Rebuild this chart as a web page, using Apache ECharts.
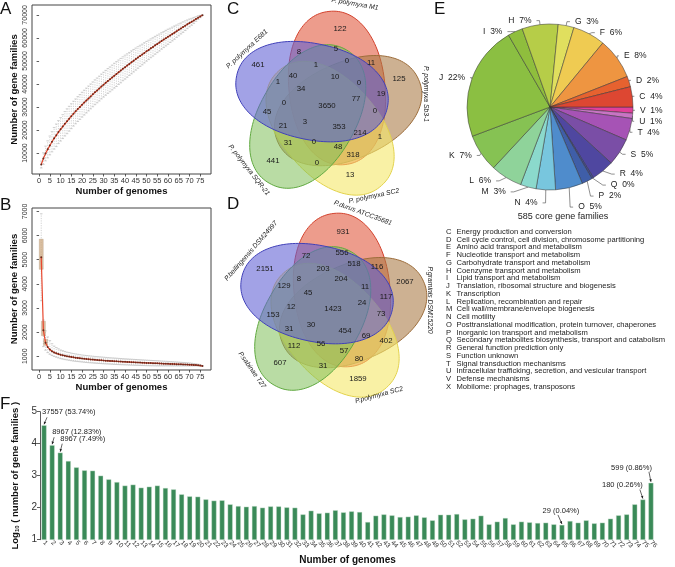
<!DOCTYPE html>
<html><head><meta charset="utf-8">
<script src="https://cdn.jsdelivr.net/npm/echarts@6/dist/echarts.min.js"></script>
<style>html,body{margin:0;padding:0;background:#fff}#c{width:675px;height:567px}</style>
</head><body><div id="c"></div>
<script>
// ---------------- DATA ----------------
const genomes = [1,2,3,4,5,6,7,8,9,10,11,12,13,14,15,16,17,18,19,20,21,22,23,24,25,26,27,28,29,30,31,32,33,34,35,36,37,38,39,40,41,42,43,44,45,46,47,48,49,50,51,52,53,54,55,56,57,58,59,60,61,62,63,64,65,66,67,68,69,70,71,72,73,74,75,76];
const genomeTicks = [0,5,10,15,20,25,30,35,40,45,50,55,60,65,70,75];
const panTicks = [10000,20000,30000,40000,50000,60000,70000];
const coreTicks = [1000,2000,3000,4000,5000,6000,7000];

const panMean = [5000,7600,9800,11600,13300,14900,16400,17700,19100,20300,21500,22700,23800,24900,26000,27100,28100,29100,30000,31000,31900,32800,33700,34600,35500,36400,37200,38000,38900,39700,40500,41300,42000,42800,43600,44300,45100,45800,46600,47300,48000,48700,49400,50100,50800,51500,52200,52800,53500,54200,54800,55500,56100,56800,57400,58000,58700,59300,59900,60500,61100,61700,62300,62900,63500,64100,64700,65300,65900,66500,67000,67600,68200,68800,69300,69900];
const panLow = [3500,5100,6600,7900,9200,10500,11700,12800,14100,15200,16300,17400,18400,19500,20600,21700,22700,23700,24600,25600,26500,27400,28300,29200,30100,31000,31800,32600,33500,34300,35100,35900,36600,37400,38200,38900,39800,40500,41400,42100,42900,43700,44400,45200,46000,46800,47600,48300,49100,49900,50600,51400,52100,52900,53600,54300,55100,55800,56500,57200,58000,58700,59400,60200,60900,61700,62400,63200,64000,64800,65500,66300,67200,68000,68800,69900];
const panHigh = [6500,10100,13000,15300,17400,19300,21100,22600,24100,25400,26700,28000,29200,30300,31400,32500,33500,34500,35400,36400,37300,38200,39100,40000,40900,41800,42600,43400,44300,45100,45900,46700,47400,48200,49000,49700,50400,51100,51800,52500,53100,53700,54400,55000,55600,56200,56800,57300,57900,58500,59000,59600,60100,60700,61200,61700,62300,62800,63300,63800,64200,64700,65200,65600,66100,66500,67000,67400,67800,68200,68500,68900,69200,69600,69800,69900];

const coreMean = [5100,2080,1560,1380,1280,1210,1160,1120,1090,1060,1040,1020,1000,985,970,955,942,930,918,907,897,887,878,869,861,853,845,838,831,824,818,812,806,800,794,789,783,778,773,768,763,758,754,749,745,740,736,732,728,724,720,716,712,708,705,701,697,694,690,687,683,680,676,673,669,666,662,658,655,651,646,640,633,625,614,599];
const coreLow = [3300,1400,1250,1150,1080,1030,990,960,930,900,880,860,845,830,815,800,790,780,770,760,750,742,734,726,719,712,706,700,694,688,683,678,673,668,663,659,654,650,646,642,638,634,631,627,624,621,618,615,612,609,607,604,602,600,599,599,599,599,599,599,599,599,599,599,599,599,599,599,599,599,599,599,599,599,599,599];
const coreHigh = [6900,2500,2050,1800,1650,1520,1420,1360,1310,1260,1230,1200,1170,1150,1130,1110,1095,1080,1065,1050,1040,1030,1020,1010,1000,992,984,976,968,960,952,945,938,931,924,918,911,905,899,893,887,881,876,870,865,859,854,849,844,838,833,828,822,817,812,806,800,795,790,785,778,773,767,761,755,749,742,735,728,720,710,698,684,668,645,599];
const coreBoxGenomes = [1,2,3];
const coreBoxLow = [4600,1850,1450];
const coreBoxHigh = [5850,2450,1700];

const vennCSets = ['P. polymyxa M1','P. polymyxa Sb3-1','P. polymyxa SC2','P. polymyxa SQR-21','P. polymyxa E681'];
const vennCCounts = [122,8,5,0,11,461,1,125,40,10,1,0,34,19,0,77,3650,0,45,3,21,353,214,1,31,0,48,318,441,0,13];
const vennDSets = ['P.durus ATCC35681','P.graminis DSM15220','P.polymyxa SC2','P.sabinae T27','P.beilingensis DSM24997'];
const vennDCounts = [931,72,556,518,116,2151,203,2067,8,204,129,11,45,117,12,1423,24,153,73,31,30,454,69,402,112,56,57,80,607,31,1859];

const cogLetters = ['V','U','T','S','R','Q','P','O','N','M','L','K','J','I','H','G','F','E','D','C'];
const cogCounts  = [7,6,25,31,26,2,12,31,22,18,36,43,131,17,41,18,37,47,12,23];
const cogTitle = '585 core gene families';
const cogLegend = [
 ['C','Energy production and conversion'],
 ['D','Cell cycle control, cell division, chromosome partitioning'],
 ['E','Amino acid transport and metabolism'],
 ['F','Nucleotide transport and metabolism'],
 ['G','Carbohydrate transport and metabolism'],
 ['H','Coenzyme transport and metabolism'],
 ['I','Lipid transport and metabolism'],
 ['J','Translation, ribosomal structure and biogenesis'],
 ['K','Transcription'],
 ['L','Replication, recombination and repair'],
 ['M','Cell wall/membrane/envelope biogenesis'],
 ['N','Cell motility'],
 ['O','Posttranslational modification, protein turnover, chaperones'],
 ['P','Inorganic ion transport and metabolism'],
 ['Q','Secondary metabolites biosynthesis, transport and catabolism'],
 ['R','General function prediction only'],
 ['S','Function unknown'],
 ['T','Signal transduction mechanisms'],
 ['U','Intracellular trafficking, secretion, and vesicular transport'],
 ['V','Defense mechanisms'],
 ['X','Mobilome: prophages, transposons']
];

const logFamilies = [4.575,3.953,3.720,3.458,3.260,3.167,3.156,3.000,2.885,2.800,2.690,2.720,2.625,2.656,2.690,2.615,2.573,2.417,2.354,2.344,2.260,2.220,2.230,2.104,2.050,2.030,2.050,2.000,2.040,2.040,2.010,2.000,1.790,1.906,1.823,1.844,1.920,1.854,1.885,1.865,1.552,1.750,1.790,1.760,1.708,1.719,1.760,1.698,1.604,1.780,1.780,1.802,1.635,1.656,1.750,1.479,1.563,1.677,1.479,1.563,1.542,1.521,1.531,1.479,1.462,1.583,1.531,1.604,1.510,1.531,1.656,1.760,1.790,2.104,2.255,2.777];
const fAnnoBins = [1,2,3,65,75,76];
const fAnnoTexts = ['37557 (53.74%)','8967 (12.83%)','8967 (7.49%)','29 (0.04%)','180 (0.26%)','599 (0.86%)'];

// ---------------- LAYOUT / STYLE ----------------
const FONT = '"Liberation Sans", Arial, Helvetica, sans-serif';
const VENN = {ox:10, oy:-19, a:48, b:77, p:2.15, tilt:-6};
const vennColors = [
 {fill:'rgba(224,84,56,0.58)', stroke:'#d2412c'},
 {fill:'rgba(168,120,68,0.58)', stroke:'#9c6c3a'},
 {fill:'rgba(245,232,105,0.6)', stroke:'#e2d24c'},
 {fill:'rgba(128,192,90,0.55)', stroke:'#5fa83f'},
 {fill:'rgba(95,95,212,0.58)', stroke:'#4040b8'}
];
const vennCLabelPos = [[13,-78],[-28,-55],[9,-58],[20,-46],[44,-44],[-69,-42],[-11,-42],[72,-28],[-34,-31],[8,-30],[-49,-25],[32,-24],[-26,-18],[54,-13],[-43,-4],[29,-8],[0,-1],[48,4],[-60,5],[-22,15],[-44,19],[12,20],[33,26],[53,30],[-39,36],[-13,35],[11,40],[26,48],[-54,54],[-10,56],[23,68]];
const vennDLabelPos = [[11,-77],[-26,-53],[10,-56],[22,-45],[45,-42],[-67,-40],[-9,-40],[73,-27],[-33,-30],[9,-30],[-48,-23],[33,-22],[-24,-16],[54,-12],[-41,-2],[1,0],[30,-6],[-59,6],[49,5],[-43,20],[-21,16],[13,22],[34,27],[54,32],[-38,37],[-11,35],[12,42],[27,50],[-52,54],[-9,57],[26,70]];
const vennCSetPos = [[28,-103,-10],[99,-13,-90],[47,89,12],[-78,63,-52],[-80,-58,43]];
const vennDSetPos = [[31,-96,-20],[98,-9,-90],[47,86,15],[-80,61,-55],[-81,-58,49]];
const cogColors = ['#e0409a','#c874c4','#a653b5','#7a4ea6','#4f47a0','#3d4a9c','#3f5ea8','#4f8ccc','#78c6de','#8bd9cc','#8fd39a','#86c253','#8bbf42','#8fbe3d','#b6cd48','#e0df5e','#efcb52','#ee9541','#e6622f','#dd4732'];
const fAnnoLayout = [
 {dx:-2,dy:-13,align:'left', a0:[3,-8], a1:[0,-1]},
 {dx:0,dy:-13,align:'left', a0:[2,-8], a1:[0,-1]},
 {dx:0,dy:-14,align:'left', a0:[2,-9], a1:[0,-1]},
 {dx:-1,dy:-14,align:'center', a0:[-4,-10], a1:[0,-1]},
 {dx:0,dy:-14.5,align:'right', a0:[-3,-10], a1:[0,-1]},
 {dx:1,dy:-15,align:'right', a0:[-2,-11], a1:[0,-1]}
];

// ---------------- BUILD ----------------
const chart = echarts.init(document.getElementById('c'), null, {renderer:'canvas'});
const axColor = '#333';

function whiskerItem(params, api){
  const x = api.value(0), lo = api.value(1), hi = api.value(2);
  const p0 = api.coord([x, lo]), p1 = api.coord([x, hi]);
  const st = {stroke:'#b3b3b3', lineWidth:0.6};
  return {type:'group', children:[
    {type:'line', shape:{x1:p0[0],y1:p0[1],x2:p1[0],y2:p1[1]}, style:Object.assign({lineDash:[1.2,1.2]}, st)},
    {type:'line', shape:{x1:p0[0]-1.3,y1:p0[1],x2:p0[0]+1.3,y2:p0[1]}, style:st},
    {type:'line', shape:{x1:p1[0]-1.3,y1:p1[1],x2:p1[0]+1.3,y2:p1[1]}, style:st}
  ]};
}
function boxItem(params, api){
  const x = api.value(0), lo = api.value(1), hi = api.value(2);
  const p0 = api.coord([x, hi]), p1 = api.coord([x, lo]);
  return {type:'rect', shape:{x:p0[0]-2, y:p0[1], width:4, height:p1[1]-p0[1]}, style:{fill:'rgba(205,170,130,0.75)', stroke:'rgba(150,120,90,0.6)', lineWidth:0.4}};
}
function vennBlobItem(params, api){
  const k = api.value(0);
  const phi = k * 72 * Math.PI / 180;
  const c = Math.cos(phi), s = Math.sin(phi);
  const cx = VENN.ox * c - VENN.oy * s, cy = VENN.ox * s + VENN.oy * c;
  const psi = (k * 72 + VENN.tilt) * Math.PI / 180;
  const c2 = Math.cos(psi), s2 = Math.sin(psi);
  const pts = [];
  for (let i = 0; i < 144; i++) {
    const t = i / 144 * 2 * Math.PI, ct = Math.cos(t), stt = Math.sin(t);
    const u = VENN.a * Math.sign(ct) * Math.pow(Math.abs(ct), 2 / VENN.p);
    const v = VENN.b * Math.sign(stt) * Math.pow(Math.abs(stt), 2 / VENN.p);
    pts.push(api.coord([cx + u * c2 - v * s2, cy + u * s2 + v * c2]));
  }
  const col = vennColors[k];
  return {type:'polygon', shape:{points:pts}, style:{fill:col.fill, stroke:col.stroke, lineWidth:1}};
}
function textItem(size, italic){
  return function(params, api){
    const p = api.coord([api.value(0), api.value(1)]);
    const rot = api.value(3);
    return {type:'text', x:p[0], y:p[1], rotation:(rot||0) * Math.PI / 180,
      style:{text:String(api.value(2)), fontSize:size, fontFamily:FONT, fontStyle:italic?'italic':'normal', fill:'#1a1a1a', align:'center', verticalAlign:'middle'}};
  };
}
function vennSeries(axisIdx, counts, pos, sets, setPos){
  return [
    {type:'custom', xAxisIndex:axisIdx, yAxisIndex:axisIdx, clip:false, silent:true,
     data:[[0,0],[1,0],[2,0],[3,0],[4,0]], renderItem:vennBlobItem},
    {type:'custom', xAxisIndex:axisIdx, yAxisIndex:axisIdx, clip:false, silent:true,
     dimensions:['x','y','t','r'],
     data:counts.map((v,i)=>[pos[i][0], pos[i][1], v, 0]), renderItem:textItem(7.8,false)},
    {type:'custom', xAxisIndex:axisIdx, yAxisIndex:axisIdx, clip:false, silent:true,
     dimensions:['x','y','t','r'],
     data:sets.map((n,i)=>[setPos[i][0], setPos[i][1], n, setPos[i][2]]), renderItem:textItem(6.8,true)}
  ];
}

const numAxisA = (gi, min, max, ticks, rotate, name, nameGap, isY) => ({
  gridIndex:gi, type:'value', min:min, max:max,
  axisLine:{show:false}, splitLine:{show:false},
  axisTick:{show:true, length:2.5, customValues:ticks, lineStyle:{color:axColor, width:0.8}},
  axisLabel:{customValues:ticks, fontSize:isY?7:7.5, color:'#333', margin:3, rotate:rotate, fontFamily:FONT, formatter:v=>String(v)},
  name:name, nameLocation:'middle', nameGap:nameGap, nameRotate:isY?90:0,
  nameTextStyle:{fontWeight:'bold', fontSize:9.5, color:'#111', fontFamily:FONT}
});
const hiddenAxis = (gi) => ({gridIndex:gi, type:'value', min:-115, max:115, show:false});
const hiddenYAxis = (gi) => ({gridIndex:gi, type:'value', min:-105, max:105, show:false, inverse:true});

const cogTotal = cogCounts.reduce((a,b)=>a+b,0);

const graphics = [];
[['A',0,1],['B',0,197],['C',227,1],['D',227,196],['E',434,1],['F',0,396]].forEach(l=>{
  graphics.push({type:'text', x:l[1], y:l[2], style:{text:l[0], fontSize:17, fontFamily:FONT, fill:'#111', align:'left', verticalAlign:'top'}});
});
graphics.push({type:'text', x:563, y:217, style:{text:cogTitle, fontSize:9, fontFamily:FONT, fill:'#222', align:'center', verticalAlign:'middle'}});
cogLegend.forEach((r,i)=>{
  const y = 231.7 + i * 7.75;
  graphics.push({type:'text', x:446, y:y, style:{text:r[0], fontSize:7.6, fontFamily:FONT, fill:'#222', align:'left', verticalAlign:'middle'}});
  graphics.push({type:'text', x:456.5, y:y, style:{text:r[1], fontSize:7.6, fontFamily:FONT, fill:'#222', align:'left', verticalAlign:'middle'}});
});

const option = {
  animation:false,
  textStyle:{fontFamily:FONT},
  grid:[
    {left:32, top:5, width:179, height:169, show:true, borderColor:'#444', borderWidth:1},
    {left:32, top:208, width:179, height:162, show:true, borderColor:'#444', borderWidth:1},
    {left:40, top:411.7, width:615, height:128},
    {left:212, top:2, width:230, height:210},
    {left:217, top:204, width:230, height:210}
  ],
  xAxis:[
    numAxisA(0, -3.3, 80, genomeTicks, 0, 'Number of genomes', 12, false),
    numAxisA(1, -3.3, 80, genomeTicks, 0, 'Number of genomes', 11, false),
    {gridIndex:2, type:'category', data:genomes, axisLine:{show:false}, axisTick:{show:false},
     axisLabel:{interval:0, rotate:-45, fontSize:6.5, margin:2, color:'#333', fontFamily:FONT},
     name:'Number of genomes', nameLocation:'middle', nameGap:16,
     nameTextStyle:{fontWeight:'bold', fontSize:10, color:'#111', fontFamily:FONT}},
    hiddenAxis(3), hiddenAxis(4)
  ],
  yAxis:[
    numAxisA(0, 900, 74300, panTicks, 90, 'Number of gene families', 13, true),
    numAxisA(1, 430, 7140, coreTicks, 90, 'Number of gene families', 13, true),
    {gridIndex:2, type:'value', min:1, max:5, interval:1, splitLine:{show:false},
     axisLine:{show:true, lineStyle:{color:axColor, width:0.8}},
     axisTick:{show:true, length:3, lineStyle:{color:axColor, width:0.8}},
     axisLabel:{fontSize:10, color:'#333', margin:3, fontFamily:FONT},
     name:'{a|Log}{s|10}{a| ( number of gene families )}', nameLocation:'middle', nameRotate:90, nameGap:19,
     nameTextStyle:{rich:{a:{fontSize:9.5, fontWeight:'bold', color:'#111', fontFamily:FONT, lineHeight:11},
                          s:{fontSize:6, fontWeight:'bold', color:'#111', fontFamily:FONT, lineHeight:6, verticalAlign:'bottom'}}}},
    hiddenYAxis(3), hiddenYAxis(4)
  ],
  series:[
    {type:'custom', xAxisIndex:0, yAxisIndex:0, clip:false, silent:true, encode:{x:0,y:[1,2]},
     data:genomes.map((n,i)=>[n, panLow[i], panHigh[i]]), renderItem:whiskerItem},
    {type:'line', xAxisIndex:0, yAxisIndex:0, silent:true, data:genomes.map((n,i)=>[n, panMean[i]]),
     lineStyle:{color:'#e8472e', width:1.2}, symbol:'circle', symbolSize:2, itemStyle:{color:'#6b2a1c'}},
    {type:'custom', xAxisIndex:1, yAxisIndex:1, clip:false, silent:true, encode:{x:0,y:[1,2]},
     data:genomes.map((n,i)=>[n, coreLow[i], coreHigh[i]]), renderItem:whiskerItem},
    {type:'custom', xAxisIndex:1, yAxisIndex:1, clip:false, silent:true, encode:{x:0,y:[1,2]},
     data:coreBoxGenomes.map((n,i)=>[n, coreBoxLow[i], coreBoxHigh[i]]), renderItem:boxItem},
    {type:'line', xAxisIndex:1, yAxisIndex:1, silent:true, data:genomes.map((n,i)=>[n, coreMean[i]]),
     lineStyle:{color:'#e8472e', width:1.2}, symbol:'circle', symbolSize:2, itemStyle:{color:'#6b2a1c'}},
    {type:'bar', xAxisIndex:2, yAxisIndex:2, silent:true, data:logFamilies, barWidth:5,
     itemStyle:{color:'#3a8a58', borderColor:'#cfe3d5', borderWidth:0.4}},
    ...vennSeries(3, vennCCounts, vennCLabelPos, vennCSets, vennCSetPos),
    ...vennSeries(4, vennDCounts, vennDLabelPos, vennDSets, vennDSetPos),
    {type:'pie', center:[550,107], radius:83, startAngle:0, clockwise:true, silent:true,
     data:cogLetters.map((l,i)=>({name:l, value:cogCounts[i], itemStyle:{color:cogColors[i]}})),
     itemStyle:{borderColor:'#333', borderWidth:0.5},
     label:{show:true, position:'outside', fontSize:8.5, color:'#222', fontFamily:FONT,
       formatter:p=>p.name + '  ' + Math.round(p.value / cogTotal * 100) + '%'},
     labelLine:{show:true, length:4, length2:3, lineStyle:{color:'#444', width:0.6}}}
  ],
  graphic:{elements:graphics}
};
chart.setOption(option);

// F annotations positioned through the bar axis scales
const annos = [];
fAnnoBins.forEach((b,i)=>{
  const idx = genomes.indexOf(b);
  const p = chart.convertToPixel({xAxisIndex:2, yAxisIndex:2}, [idx, logFamilies[idx]]);
  const L = fAnnoLayout[i];
  annos.push({type:'text', x:p[0]+L.dx, y:p[1]+L.dy, style:{text:fAnnoTexts[i], fontSize:7.5, fontFamily:FONT, fill:'#222', align:L.align, verticalAlign:'middle'}});
  const x0 = p[0]+L.a0[0], y0 = p[1]+L.a0[1], x1 = p[0]+L.a1[0], y1 = p[1]+L.a1[1];
  annos.push({type:'line', shape:{x1:x0,y1:y0,x2:x1,y2:y1}, style:{stroke:'#222', lineWidth:0.7}});
  const ang = Math.atan2(y1-y0, x1-x0), h = 2.6, w = 1.3;
  annos.push({type:'polygon', shape:{points:[[x1,y1],[x1-h*Math.cos(ang)+w*Math.sin(ang), y1-h*Math.sin(ang)-w*Math.cos(ang)],[x1-h*Math.cos(ang)-w*Math.sin(ang), y1-h*Math.sin(ang)+w*Math.cos(ang)]]}, style:{fill:'#222'}});
});
chart.setOption({graphic:{elements:graphics.concat(annos)}});
</script>
</body></html>
